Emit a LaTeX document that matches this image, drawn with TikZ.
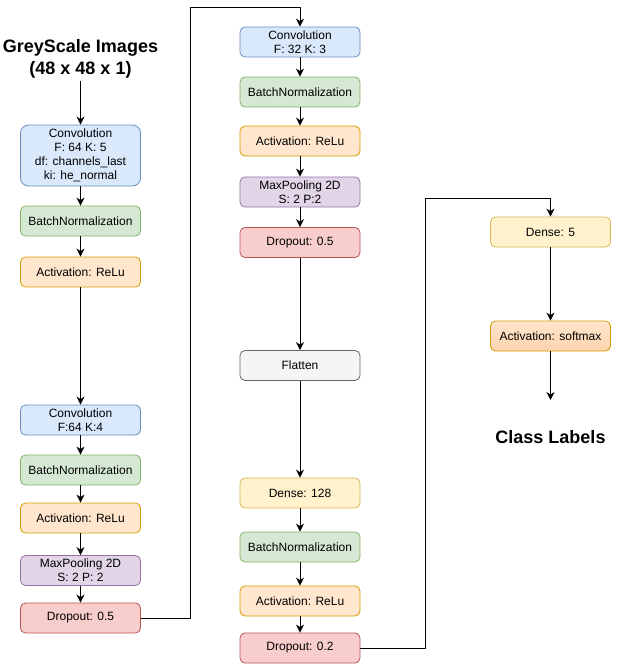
\documentclass[tikz,border=0pt]{standalone}
\usepackage{fontspec}
\setmainfont{Liberation Sans}
\usetikzlibrary{arrows.meta}

\definecolor{bluefill}{HTML}{DAE8FC}\definecolor{bluedraw}{HTML}{6C8EBF}
\definecolor{greenfill}{HTML}{D5E8D4}\definecolor{greendraw}{HTML}{82B366}
\definecolor{orangefill}{HTML}{FFE6CC}\definecolor{orangedraw}{HTML}{D79B00}
\definecolor{purplefill}{HTML}{E1D5E7}\definecolor{purpledraw}{HTML}{9673A6}
\definecolor{redfill}{HTML}{F8CECC}\definecolor{reddraw}{HTML}{B85450}
\definecolor{grayfill}{HTML}{F5F5F5}\definecolor{graydraw}{HTML}{666666}
\definecolor{yellowfill}{HTML}{FFF2CC}\definecolor{yellowdraw}{HTML}{D6B656}
\definecolor{peachdark}{HTML}{FDD3AD}

\tikzset{
  layer/.style={draw, rounded corners=5pt, line width=0.8pt, minimum width=120pt,
    minimum height=30pt, inner sep=1pt, align=center,
    font=\fontsize{12}{14}\selectfont},
  conv/.style={layer, fill=bluefill, draw=bluedraw},
  bnorm/.style={layer, fill=greenfill, draw=greendraw},
  act/.style={layer, fill=orangefill, draw=orangedraw},
  pool/.style={layer, fill=purplefill, draw=purpledraw},
  drop/.style={layer, fill=redfill, draw=reddraw},
  flat/.style={layer, fill=grayfill, draw=graydraw},
  dense/.style={layer, fill=yellowfill, draw=yellowdraw},
  softact/.style={layer, top color=orangefill, bottom color=peachdark, draw=orangedraw},
  heading/.style={align=center, inner sep=2pt, font=\fontsize{18}{22}\selectfont\bfseries},
}

\begin{document}
\begin{tikzpicture}[x=1pt, y=-1pt]
      \useasboundingbox (0,0) rectangle (631,664);
      % left column
      \draw
        (80.5,59) node[heading] (in){GreyScale Images\\(48 x 48 x 1)}
        (80.5,155.5) node[conv, minimum height=61pt, rounded corners=8pt] (c1){Convolution\\F: 64 K: 5\\df: channels\_last\\ki: he\_normal}
        (80.5,221) node[bnorm] (b1){BatchNormalization}
        (80.5,272) node[act] (a1){Activation: ReLu}
        (80.5,420) node[conv] (c2){Convolution\\F:64 K:4}
        (80.5,470) node[bnorm] (b2){BatchNormalization}
        (80.5,518) node[act] (a2){Activation: ReLu}
        (80.5,570.5) node[pool] (m2){MaxPooling 2D\\S: 2 P: 2}
        (80.5,618) node[drop] (d2){Dropout: 0.5};
      % middle column
      \draw
        (300,42) node[conv] (c3){Convolution\\F: 32 K: 3}
        (300,92) node[bnorm] (b3){BatchNormalization}
        (300,141) node[act] (a3){Activation: ReLu}
        (300,192) node[pool] (m3){MaxPooling 2D\\S: 2 P:2}
        (300,242.5) node[drop] (d3){Dropout: 0.5}
        (300,365.5) node[flat] (f){Flatten}
        (300,493) node[dense] (e4){Dense: 128}
        (300,547) node[bnorm] (b4){BatchNormalization}
        (300,601) node[act] (a4){Activation: ReLu}
        (300,648) node[drop] (d4){Dropout: 0.2};
      % right column
      \draw
        (550.5,232) node[dense] (e5){Dense: 5}
        (550.5,336) node[softact] (s5){Activation: softmax}
        (550.5,437) node[heading] (out){Class Labels};
      \coordinate (k1) at (190,7);
      \coordinate (k2) at (425,198);
      \coordinate (o) at (550.5,400);
      \begin{scope}[-{Stealth[length=8pt,width=8pt,inset=2.5pt]}, line width=1pt]
        \draw (in) to (c1);
        \draw (c1) to (b1);
        \draw (b1) to (a1);
        \draw (a1) to (c2);
        \draw (c2) to (b2);
        \draw (b2) to (a2);
        \draw (a2) to (m2);
        \draw (m2) to (d2);
        \draw (d2.east) -| (k1) -| (c3.north);
        \draw (c3) to (b3);
        \draw (b3) to (a3);
        \draw (a3) to (m3);
        \draw (m3) to (d3);
        \draw (d3) to (f);
        \draw (f) to (e4);
        \draw (e4) to (b4);
        \draw (b4) to (a4);
        \draw (a4) to (d4);
        \draw (d4.east) -| (k2) -| (e5.north);
        \draw (e5) to (s5);
        \draw (s5) to (o);
      \end{scope}
    \end{tikzpicture}
\end{document}
